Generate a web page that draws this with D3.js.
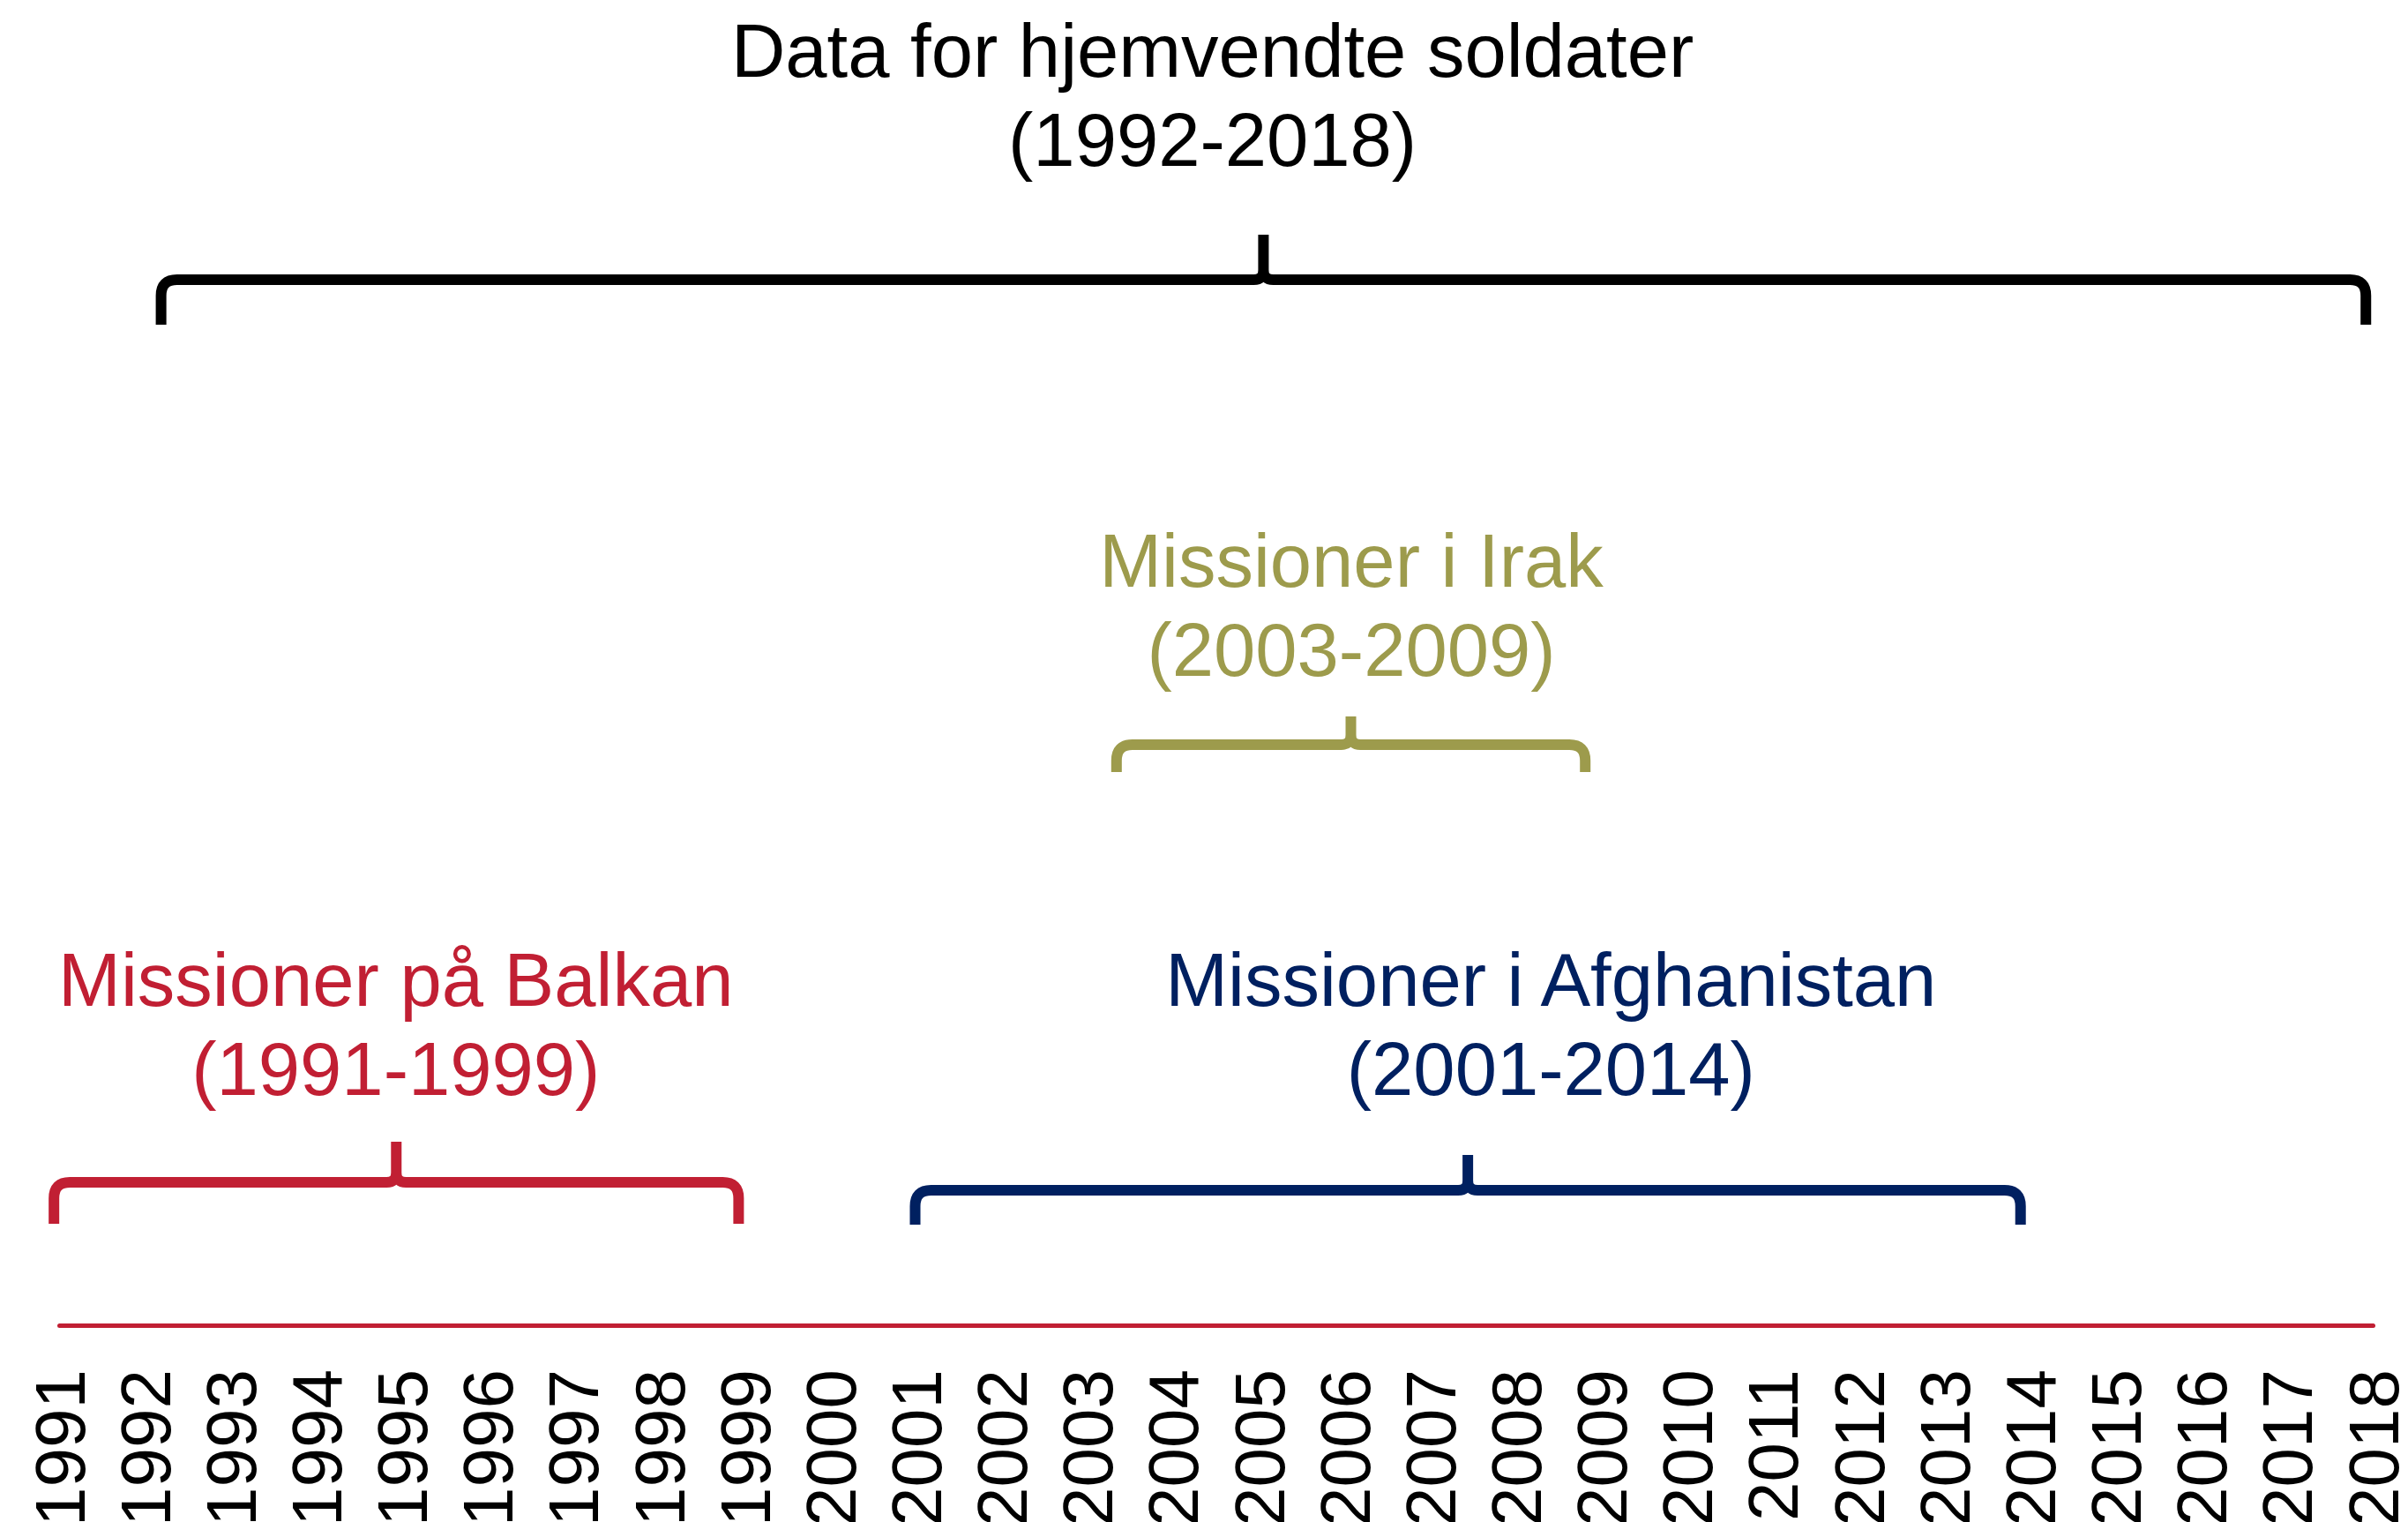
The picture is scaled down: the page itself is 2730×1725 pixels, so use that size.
<!DOCTYPE html>
<html>
<head>
<meta charset="utf-8">
<script src="https://cdn.jsdelivr.net/npm/d3@7"></script>
<style>
  html, body { margin: 0; padding: 0; background: #ffffff; }
  svg { display: block; }
</style>
</head>
<body>
<svg id="chart" width="2730" height="1725"></svg>
<script>
// ---------- data ----------
const tickYears = [1991, 1992, 1993, 1994, 1995, 1996, 1997, 1998, 1999, 2000,
                   2001, 2002, 2003, 2004, 2005, 2006, 2007, 2008, 2009, 2010,
                   2011, 2012, 2013, 2014, 2015, 2016, 2017, 2018];
const groupNames   = ["Data for hjemvendte soldater", "Missioner på Balkan", "Missioner i Irak", "Missioner i Afghanistan"];
const groupPeriods = ["(1992-2018)", "(1991-1999)", "(2003-2009)", "(2001-2014)"];
// brace ends and label centres, in years
const braceStart  = [1992.19, 1990.94, 2003.34, 2000.99];
const braceEnd    = [2017.92, 1998.93, 2008.81, 2013.89];
const labelCenter = [2004.46, 1994.93, 2006.08, 2008.41];

// ---------- styles / layout ----------
const groupColors = ["#000000", "#C11F33", "#9D9B4C", "#002060"];
const axisColor = "#C11F33";
const layout = [
  { lineY: 317,  tipTop: 266,  legBottom: 368,  b1: 87,   b2: 188 },
  { lineY: 1340, tipTop: 1294, legBottom: 1387, b1: 1140, b2: 1241 },
  { lineY: 844,  tipTop: 812,  legBottom: 875,  b1: 665,  b2: 766 },
  { lineY: 1349, tipTop: 1309, legBottom: 1388, b1: 1140, b2: 1241 }
];
const fontFamily = "'Liberation Sans', Arial, Helvetica, sans-serif";
const axisY = 1502;

const svg = d3.select("#chart");
const x = d3.scaleLinear().domain([1991, 2018]).range([67, 2690]);

// ---------- axis ----------
const axis = d3.axisBottom(x)
  .tickValues(tickYears)
  .tickFormat(d3.format("d"))
  .tickSize(0)
  .tickSizeOuter(0);

const gAxis = svg.append("g")
  .attr("transform", `translate(0,${axisY})`)
  .call(axis);

gAxis.select(".domain")
  .attr("stroke", axisColor)
  .attr("stroke-width", 5)
  .attr("stroke-linecap", "round");

gAxis.selectAll(".tick text")
  .attr("transform", "rotate(-90)")
  .attr("text-anchor", "end")
  .attr("x", -50)
  .attr("y", 0)
  .attr("dy", "0.35em")
  .attr("fill", "#000")
  .style("font-family", fontFamily)
  .style("font-size", "80px");

// ---------- braces ----------
function bracePath(x0, x1, y, top, bottom) {
  const r = 18, rm = 11;
  const xm = (x0 + x1) / 2;
  const p = d3.path();
  p.moveTo(x0, bottom);
  p.lineTo(x0, y + r);
  p.quadraticCurveTo(x0, y, x0 + r, y);
  p.lineTo(xm - rm, y);
  p.quadraticCurveTo(xm, y, xm, y - rm);
  p.lineTo(xm, top);
  p.moveTo(xm, top);
  p.lineTo(xm, y - rm);
  p.quadraticCurveTo(xm, y, xm + rm, y);
  p.lineTo(x1 - r, y);
  p.quadraticCurveTo(x1, y, x1, y + r);
  p.lineTo(x1, bottom);
  return p.toString();
}

const idx = d3.range(groupNames.length);

svg.append("g").selectAll("path")
  .data(idx)
  .join("path")
  .attr("d", i => bracePath(x(braceStart[i]), x(braceEnd[i]), layout[i].lineY, layout[i].tipTop, layout[i].legBottom))
  .attr("fill", "none")
  .attr("stroke", i => groupColors[i])
  .attr("stroke-width", 12)
  .attr("stroke-linecap", "butt")
  .attr("stroke-linejoin", "round");

// ---------- labels ----------
const gLab = svg.append("g")
  .style("font-family", fontFamily)
  .style("font-size", "85px")
  .attr("text-anchor", "middle");

gLab.selectAll("text.name")
  .data(idx)
  .join("text")
  .attr("class", "name")
  .attr("x", i => x(labelCenter[i]))
  .attr("y", i => layout[i].b1)
  .attr("fill", i => groupColors[i])
  .text(i => groupNames[i]);

gLab.selectAll("text.period")
  .data(idx)
  .join("text")
  .attr("class", "period")
  .attr("x", i => x(labelCenter[i]))
  .attr("y", i => layout[i].b2)
  .attr("fill", i => groupColors[i])
  .text(i => groupPeriods[i]);
</script>
</body>
</html>
